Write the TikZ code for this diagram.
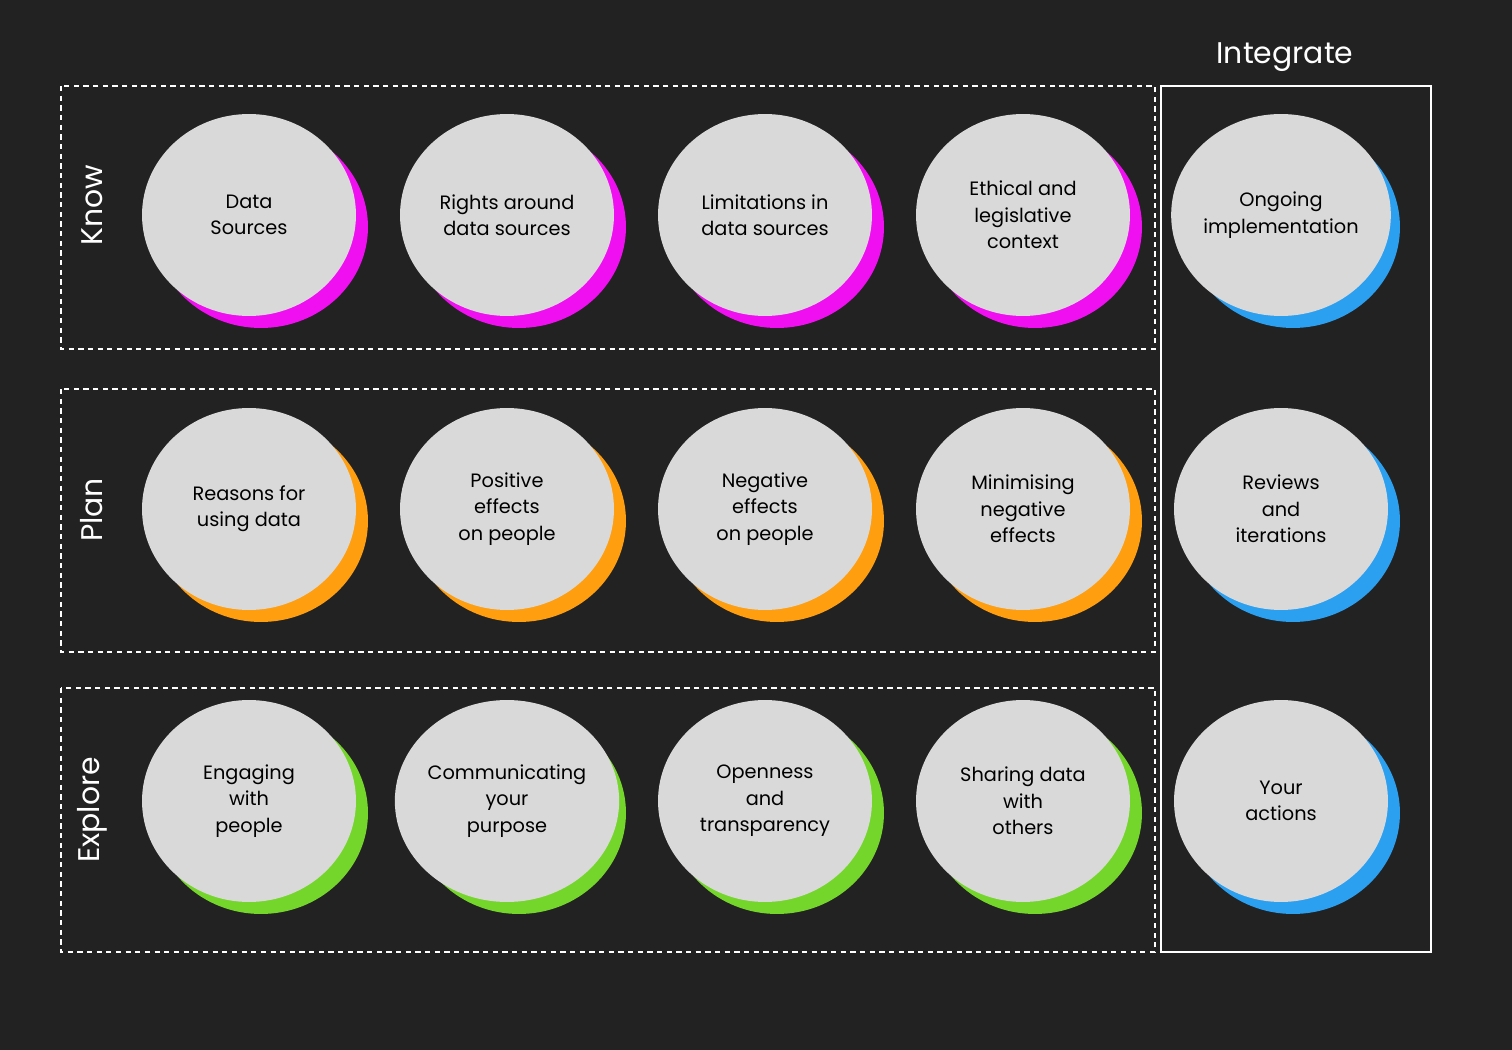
\documentclass[tikz,border=0pt]{standalone}
\usepackage{fontspec}
\setmainfont{Poppins}
\usetikzlibrary{positioning,shapes.geometric}
\definecolor{bgdark}{HTML}{222222}
\definecolor{bubble}{HTML}{D9D9D9}
\definecolor{knowc}{HTML}{F00FF0}
\definecolor{planc}{HTML}{FF9E0F}
\definecolor{explorec}{HTML}{74D62A}
\definecolor{integc}{HTML}{2B9FF0}

\begin{document}
\begin{tikzpicture}[x=0.02cm, y=-0.02cm,
                    bubble/.style = {ellipse,
                                     fill = bubble,
                                     minimum width = 4.28cm,
                                     minimum height = 4.04cm,
                                     inner sep = 0pt,
                                     align = center,
                                     text = black,
                                     font = \fontsize{11}{15}\selectfont},
                    halo/.style   = {ellipse,
                                     fill = #1,
                                     minimum width = 4.28cm,
                                     minimum height = 4.04cm},
                    band/.style   = {draw = white, dashed, line width = 1.2pt,
                                     dash pattern = on 3pt off 2.5pt},
                    side/.style   = {rotate = 90, text = white,
                                     font = \fontsize{17}{20}\selectfont}]

\fill[bgdark] (0,0) rectangle (1512,1050);

% bands
\draw[band] (61,86)  rectangle (1155,349);
\draw[band] (61,389) rectangle (1155,652);
\draw[band] (61,688) rectangle (1155,952);
\draw[white, line width = 1.4pt] (1161,86) rectangle (1431,952);

\node[side] (know)    at (92,205) {Know};
\node[side] (plan)    at (92,510) {Plan};
\node[side] (explore) at (92,810) {Explore};
\node[text = white, font = \fontsize{17}{20}\selectfont] (integ) at (1285,57) {Integrate};

% bubbles
\foreach \name/\x/\y/\col/\txt in {
    k1/249/215/knowc/{Data\\Sources},
    k2/507/215/knowc/{Rights around\\data sources},
    k3/765/215/knowc/{Limitations in\\data sources},
    k4/1023/215/knowc/{Ethical and\\legislative\\context},
    i1/1281/215/integc/{Ongoing\\implementation},
    p1/249/509/planc/{Reasons for\\using data},
    p2/507/509/planc/{Positive\\effects\\on people},
    p3/765/509/planc/{Negative\\effects\\on people},
    p4/1023/509/planc/{Minimising\\negative\\effects},
    i2/1281/509/integc/{Reviews\\and\\iterations},
    e1/249/801/explorec/{Engaging\\with\\people},
    e2/507/801/explorec/{Communicating\\your\\purpose},
    e3/765/801/explorec/{Openness\\and\\transparency},
    e4/1023/801/explorec/{Sharing data\\with\\others},
    i3/1281/801/integc/{Your\\actions}}
{
  \node[halo = \col] (\name-h) at (\x+12,\y+12) {};
  \node[bubble] (\name) at (\x,\y) {\txt};
}

\end{tikzpicture}
\end{document}
